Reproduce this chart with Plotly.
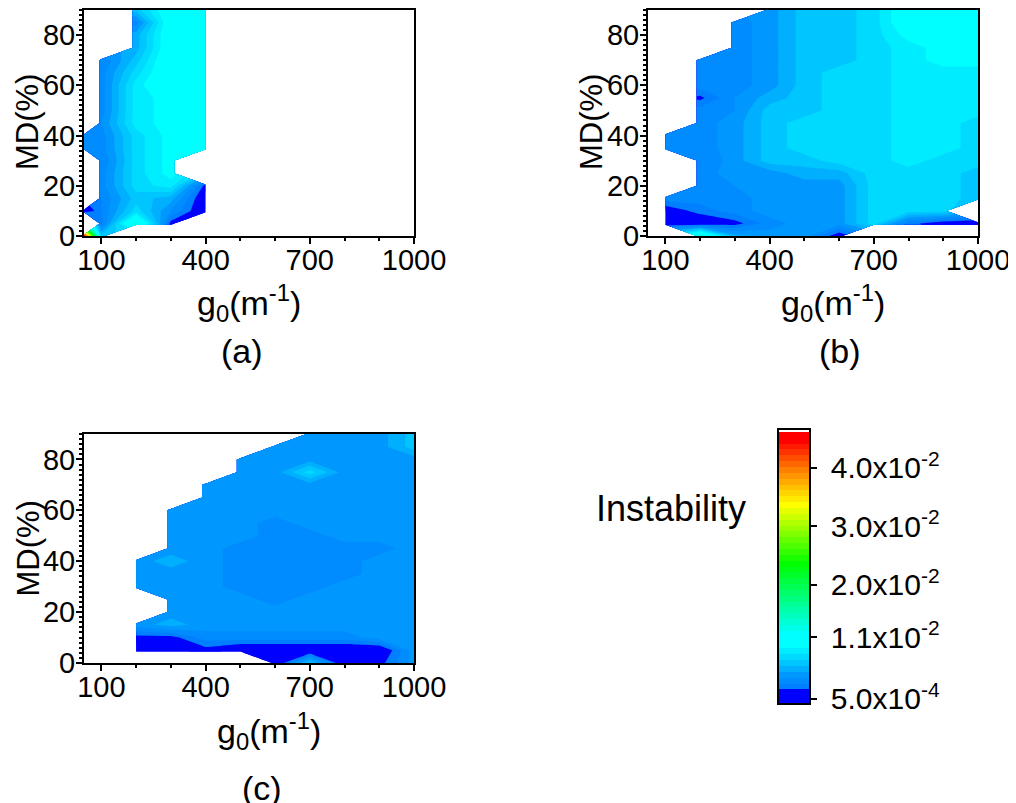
import numpy as np
import plotly.graph_objects as go

nan = None

# MD (%) grid rows
md_pct = [0, 5, 10, 15, 20, 25, 30, 35, 40, 45, 50, 55, 60, 65, 70, 75, 80, 85, 90]

# g0 (m^-1) grid columns per panel
g0_a = [50, 100, 200, 300, 400]
g0_b = [100, 200, 300, 400, 500, 600, 700, 800, 900, 1000]
g0_c = [200, 300, 400, 500, 600, 700, 800, 900, 1000]

# Instability values, one list per g0 column (bottom -> top in MD)
inst_a = [
    [0.045, nan, 0.0006, nan, nan, nan, nan, 0.0031, 0.0031, nan, nan, nan, nan, nan, nan, nan, nan, nan, nan],
    [0.0066, 0.0026, 0.0031, 0.0031, 0.0036, 0.0036, 0.0031, 0.0036, 0.0036, 0.0041, 0.0036, 0.0036, 0.0036, 0.0036, 0.0031, nan, nan, nan, nan],
    [nan, 0.013, 0.0076, 0.0066, 0.0076, 0.0076, 0.0076, 0.0076, 0.0076, 0.0086, 0.0086, 0.0086, 0.0086, 0.0076, 0.0066, 0.0056, 0.0056, 0.0036, 0.0066],
    [nan, 0.0016, 0.0041, 0.0056, 0.0086, 0.0096, 0.0096, 0.0096, 0.0096, 0.0096, 0.0096, 0.0096, 0.011, 0.011, 0.011, 0.0106, 0.0106, 0.0106, 0.0106],
    [nan, nan, 0.0006, 0.0006, 0.0016, nan, nan, 0.011, 0.011, 0.011, 0.011, 0.011, 0.011, 0.011, 0.011, 0.011, 0.011, 0.011, 0.011],
]

inst_b = [
    [nan, 0.0011, 0.0011, 0.0036, nan, nan, nan, 0.0031, 0.0031, nan, nan, nan, nan, nan, nan, nan, nan, nan, nan],
    [0.014, 0.0006, 0.0026, 0.0036, 0.0036, 0.0036, 0.0031, 0.0036, 0.0036, 0.0036, 0.0036, 0.0018, 0.0036, 0.0036, 0.0036, nan, nan, nan, nan],
    [0.0056, 0.0016, 0.0036, 0.0036, 0.0041, 0.0046, 0.0046, 0.0046, 0.0046, 0.0046, 0.0041, 0.0041, 0.0036, 0.0036, 0.0036, 0.0036, 0.0036, 0.0036, nan],
    [0.0046, 0.0036, 0.0046, 0.0046, 0.0046, 0.0046, 0.0066, 0.0066, 0.0066, 0.0066, 0.0066, 0.0056, 0.0046, 0.0046, 0.0046, 0.0046, 0.0046, 0.0046, 0.0046],
    [0.0046, 0.0046, 0.0046, 0.0046, 0.0046, 0.0056, 0.0066, 0.0076, 0.0076, 0.0076, 0.0066, 0.0066, 0.0066, 0.0066, 0.0066, 0.0066, 0.0066, 0.0066, 0.0066],
    [0.0011, 0.0046, 0.0046, 0.0046, 0.0046, 0.0056, 0.0076, 0.0076, 0.0076, 0.0076, 0.0076, 0.0076, 0.0076, 0.0076, 0.0066, 0.0066, 0.0066, 0.0066, 0.0066],
    [nan, 0.0076, 0.0076, 0.0076, 0.0076, 0.0076, 0.0076, 0.0076, 0.0076, 0.0076, 0.0076, 0.0076, 0.0076, 0.0076, 0.0076, 0.0076, 0.0076, 0.0076, 0.0076],
    [nan, 0.0026, 0.0076, 0.0076, 0.0076, 0.0076, 0.0086, 0.0086, 0.0086, 0.0086, 0.0086, 0.0086, 0.0086, 0.0086, 0.0086, 0.0086, 0.0096, 0.0106, 0.0106],
    [nan, 0.0011, 0.0076, 0.0076, 0.0076, 0.0076, 0.0076, 0.0086, 0.0086, 0.0086, 0.0086, 0.0086, 0.0086, 0.0086, 0.0096, 0.0096, 0.0106, 0.0106, 0.0106],
    [nan, 0.0011, nan, 0.0066, 0.0066, 0.0066, 0.0076, 0.0076, 0.0076, 0.0076, 0.0086, 0.0086, 0.0086, 0.0086, 0.0096, 0.0106, 0.0106, 0.0106, 0.0106],
]

inst_c = [
    [nan, 0.0006, 0.0016, 0.0046, nan, nan, 0.0046, 0.0046, 0.0046, nan, nan, nan, nan, nan, nan, nan, nan, nan, nan],
    [nan, 0.0006, 0.0016, 0.0056, 0.0046, 0.0046, 0.0046, 0.0046, 0.0056, 0.0046, 0.0046, 0.0046, 0.0046, nan, nan, nan, nan, nan, nan],
    [nan, 0.0016, 0.0036, 0.0046, 0.0046, 0.0046, 0.0046, 0.0046, 0.0046, 0.0046, 0.0046, 0.0046, 0.0046, 0.0046, 0.0046, nan, nan, nan, nan],
    [nan, 0.0006, 0.0036, 0.0046, 0.0046, 0.0046, 0.0036, 0.0036, 0.0036, 0.0036, 0.0046, 0.0046, 0.0046, 0.0046, 0.0046, 0.0046, 0.0046, nan, nan],
    [0.0006, 0.0006, 0.0036, 0.0046, 0.0046, 0.0036, 0.0036, 0.0036, 0.0036, 0.0036, 0.0036, 0.0036, 0.0046, 0.0046, 0.0046, 0.0046, 0.0046, 0.0046, nan],
    [0.0066, 0.0006, 0.0036, 0.0046, 0.0046, 0.0046, 0.0036, 0.0036, 0.0036, 0.0036, 0.0036, 0.0046, 0.0046, 0.0046, 0.0046, 0.0076, 0.0046, 0.0046, 0.0046],
    [0.0006, 0.0006, 0.0036, 0.0046, 0.0046, 0.0046, 0.0046, 0.0036, 0.0036, 0.0036, 0.0046, 0.0046, 0.0046, 0.0046, 0.0046, 0.0046, 0.0046, 0.0046, 0.0046],
    [0.0016, 0.0006, 0.0046, 0.0046, 0.0046, 0.0046, 0.0046, 0.0046, 0.0046, 0.0036, 0.0046, 0.0046, 0.0046, 0.0046, 0.0046, 0.0046, 0.0046, 0.0046, 0.0046],
    [0.0046, 0.0046, 0.0046, 0.0046, 0.0046, 0.0046, 0.0046, 0.0046, 0.0046, 0.0046, 0.0046, 0.0046, 0.0046, 0.0046, 0.0046, 0.0046, 0.0046, 0.0066, 0.0066],
]

cbar_vals = [0.0005, 0.011, 0.02, 0.03, 0.04]
cbar_text = ["5.0x10<sup>-4</sup>", "1.1x10<sup>-2</sup>", "2.0x10<sup>-2</sup>",
             "3.0x10<sup>-2</sup>", "4.0x10<sup>-2</sup>"]

x_ticks = [100, 400, 700, 1000]
panel_labels = ["(a)", "(b)", "(c)"]


def to_grid(cols):
    arr = np.array([[np.nan if v is None else v for v in c] for c in cols], dtype=float)
    return arr.T


nb = 47.0
colorscale = [
    [0.0, "rgb(0,0,255)"],
    [2 / nb, "rgb(0,0,255)"],
    [3 / nb, "rgb(0,128,255)"],
    [4 / nb, "rgb(0,140,255)"],
    [5 / nb, "rgb(0,152,255)"],
    [6 / nb, "rgb(0,176,255)"],
    [7 / nb, "rgb(0,198,255)"],
    [8 / nb, "rgb(0,218,255)"],
    [9 / nb, "rgb(0,236,255)"],
    [10 / nb, "rgb(0,255,255)"],
    [12 / nb, "rgb(0,255,255)"],
    [24 / nb, "rgb(0,255,0)"],
    [34 / nb, "rgb(255,255,0)"],
    [40 / nb, "rgb(255,128,0)"],
    [45 / nb, "rgb(255,0,0)"],
    [46 / nb, "rgb(255,0,0)"],
    [1.0, "rgb(255,255,255)"],
]

contours = dict(start=0.0001, end=0.0461, size=0.001, coloring="fill", showlines=False)

# the page body has an 8px margin: size the figure to the remaining area
OFF = 8
W, H = 1016 - OFF, 803 - OFF
FONT = "Liberation Sans, Arial, sans-serif"


def px(X):
    return (X - OFF) / W


def py(Y):
    return 1 - (Y - OFF) / H


fig = go.Figure()
panels = [(g0_a, inst_a, "x", "y"), (g0_b, inst_b, "x2", "y2"), (g0_c, inst_c, "x3", "y3")]
for i, (gx, cols, xa, ya) in enumerate(panels):
    fig.add_trace(go.Contour(
        x=gx, y=md_pct, z=to_grid(cols),
        xaxis=xa, yaxis=ya,
        colorscale=colorscale,
        contours=contours,
        line=dict(width=0, smoothing=0),
        connectgaps=False,
        hoverinfo="skip",
        showscale=(i == 0),
        colorbar=dict(
            x=px(778), xanchor="left", xpad=0, ypad=0,
            y=py(566.5), yanchor="middle",
            len=275 / H, lenmode="fraction",
            thickness=32, thicknessmode="pixels",
            outlinewidth=2, outlinecolor="black",
            ticks="outside", ticklen=6, tickwidth=2, tickcolor="black",
            tickvals=cbar_vals, ticktext=["&nbsp;" + t for t in cbar_text],
            tickfont=dict(size=30, color="black", family=FONT),
        ),
    ))

# panel domains (paper fractions)
dom = {
    "a": ([px(84), px(414)], [py(236), py(10)]),
    "b": ([px(648), px(978)], [py(236), py(10)]),
    "c": ([px(84), px(414)], [py(663), py(434)]),
}


def xax(domain, anchor):
    return dict(domain=domain, anchor=anchor, range=[50, 1000], tickmode="array", tickvals=x_ticks,
                ticks="outside", ticklen=6, tickwidth=2, tickcolor="black",
                minor=dict(tickmode="linear", tick0=0, dtick=100, ticks="outside", ticklen=3,
                           tickwidth=1.5, tickcolor="black"),
                showline=True, linewidth=2, linecolor="black", mirror=True,
                showgrid=False, zeroline=False, ticklabelstandoff=-9,
                tickfont=dict(size=29, color="black", family=FONT))


def yax(domain, anchor):
    return dict(domain=domain, anchor=anchor, range=[0, 90], tickmode="linear", tick0=0, dtick=20,
                ticks="outside", ticklen=6, tickwidth=2, tickcolor="black",
                minor=dict(tickmode="linear", tick0=0, dtick=2, ticks="outside", ticklen=3,
                           tickwidth=1.5, tickcolor="black"),
                showline=True, linewidth=2, linecolor="black", mirror=True,
                showgrid=False, zeroline=False, ticklabelstandoff=-5,
                tickfont=dict(size=29, color="black", family=FONT))


fig.update_layout(
    width=W, height=H,
    margin=dict(l=0, r=0, t=0, b=0, autoexpand=False),
    paper_bgcolor="white", plot_bgcolor="white",
    font=dict(family=FONT, color="black", size=28),
    showlegend=False,
    xaxis=xax(dom["a"][0], "y"), yaxis=yax(dom["a"][1], "x"),
    xaxis2=xax(dom["b"][0], "y2"), yaxis2=yax(dom["b"][1], "x2"),
    xaxis3=xax(dom["c"][0], "y3"), yaxis3=yax(dom["c"][1], "x3"),
)

ann = []
g0_text = "g<sub>0</sub>(m<sup>-1</sup>)"
LBL = dict(size=34, family=FONT, color="black")
MDF = dict(size=31, family=FONT, color="black")
# y-axis titles
ann.append(dict(text="MD(%)", x=px(28), y=py(122), textangle=-90, font=MDF))
ann.append(dict(text="MD(%)", x=px(592), y=py(122), textangle=-90, font=MDF))
ann.append(dict(text="MD(%)", x=px(28), y=py(548.5), textangle=-90, font=MDF))
# x-axis titles
ann.append(dict(text=g0_text, x=px(249), y=py(303), font=LBL))
ann.append(dict(text=g0_text, x=px(833), y=py(303), font=LBL))
ann.append(dict(text=g0_text, x=px(269), y=py(731), font=LBL))
# panel labels
ann.append(dict(text=panel_labels[0], x=px(242), y=py(351), font=LBL))
ann.append(dict(text=panel_labels[1], x=px(840), y=py(351), font=LBL))
ann.append(dict(text=panel_labels[2], x=px(262), y=py(788), font=LBL))
# colorbar title
ann.append(dict(text="Instability", x=px(671), y=py(508), font=dict(size=36, family=FONT, color="black")))

for a in ann:
    a.update(xref="paper", yref="paper", xanchor="center", yanchor="middle", showarrow=False)
    fig.add_annotation(**a)

fig.write_html("out.html")
